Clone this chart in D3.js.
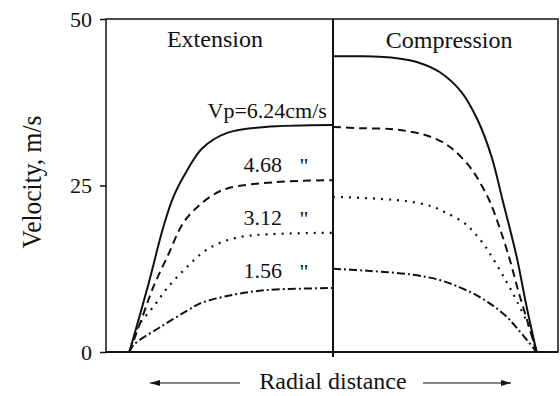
<!DOCTYPE html>
<html>
<head>
<meta charset="utf-8">
<script src="https://cdn.jsdelivr.net/npm/d3@7"></script>
<style>
  body { margin: 0; background: #fff; }
  svg text { font-family: "Liberation Serif", "Times New Roman", serif; fill: #111; }
</style>
</head>
<body>
<div id="chart"></div>
<script>
// radial position r: -1 = left wall (extension side), 0 = centre, 1 = right wall (compression side)
// values are velocity in m/s
var ext624 = [[-1,0],[-0.91,9.8],[-0.833,18.8],[-0.784,23.3],[-0.716,27.3],[-0.642,30.6],[-0.52,32.9],[-0.333,33.8],[0,34.1]];
var ext468 = [[-1,0],[-0.936,5.3],[-0.882,9.8],[-0.814,14.3],[-0.735,19.4],[-0.662,21.9],[-0.588,23.6],[-0.515,24.6],[-0.284,25.5],[0,25.8]];
var ext312 = [[-1,0],[-0.956,3.9],[-0.882,6.8],[-0.809,9.8],[-0.716,12.8],[-0.637,15.0],[-0.554,16.4],[-0.431,17.4],[0,17.9]];
var ext156 = [[-1,0],[-0.98,1.05],[-0.848,3.75],[-0.716,6.2],[-0.652,7.3],[-0.49,8.6],[-0.324,9.3],[0,9.6]];

var cmp624 = [[0,44.4],[0.132,44.4],[0.314,44.1],[0.426,43.4],[0.525,42.0],[0.632,39.0],[0.711,34.8],[0.779,29.3],[0.833,22.8],[0.902,14.3],[0.951,6.8],[1,0]];
var cmp468 = [[0,33.8],[0.132,33.6],[0.279,33.5],[0.377,33.1],[0.461,32.5],[0.539,31.5],[0.598,30.2],[0.672,27.8],[0.721,25.5],[0.77,22.6],[0.819,18.6],[0.868,13.9],[0.907,9.5],[0.951,5.0],[1,0]];
var cmp312 = [[0,23.3],[0.167,23.1],[0.314,22.8],[0.412,22.4],[0.49,21.8],[0.549,21.0],[0.647,19.3],[0.73,16.6],[0.794,13.6],[0.853,10.5],[0.902,7.7],[0.966,3.5],[1,0]];
var cmp156 = [[0,12.5],[0.167,12.2],[0.392,11.6],[0.525,10.8],[0.623,9.7],[0.706,8.5],[0.784,7.0],[0.853,5.3],[0.892,4.0],[0.931,2.6],[1,0]];

var yTicks = [0, 25, 50];
var speedLabels = ['Vp=6.24cm/s', '4.68', '3.12', '1.56'];
var sideLabels = ['Extension', 'Compression'];

var w = 560, h = 396;
var svg = d3.select('#chart').append('svg').attr('width', w).attr('height', h);

var xScale = d3.scaleLinear().domain([-1.115, 1.11]).range([106, 559]);
var yScale = d3.scaleLinear().domain([0, 50]).range([352, 19]);

var styles = [
  {dash: null, width: 2},        // 6.24
  {dash: '8,5', width: 2},       // 4.68
  {dash: '2,6', width: 2.2},     // 3.12
  {dash: '8,3,2,3', width: 2}    // 1.56
];

var line = d3.line()
  .x(function(d){return xScale(d[0]);})
  .y(function(d){return yScale(d[1]);})
  .curve(d3.curveCatmullRom.alpha(0.5));

var series = [ext624, ext468, ext312, ext156, cmp624, cmp468, cmp312, cmp156];
series.forEach(function(s, i){
  var st = styles[i % 4];
  svg.append('path')
    .attr('d', line(s))
    .attr('fill', 'none')
    .attr('stroke', '#111')
    .attr('stroke-width', st.width)
    .attr('stroke-dasharray', st.dash);
});

// frame
var x0 = xScale.range()[0], x1 = xScale.range()[1];
var y0 = yScale.range()[0], y1 = yScale.range()[1];
svg.append('rect')
  .attr('x', x0).attr('y', y1)
  .attr('width', x1 - x0 - 1).attr('height', y0 - y1)
  .attr('fill', 'none').attr('stroke', '#111').attr('stroke-width', 1.5);
svg.append('line') // bottom edge a bit heavier
  .attr('x1', x0).attr('x2', x1 - 1).attr('y1', y0).attr('y2', y0)
  .attr('stroke', '#111').attr('stroke-width', 2);

// centre divider with its tick below the axis
svg.append('line')
  .attr('x1', xScale(0)).attr('x2', xScale(0))
  .attr('y1', y1).attr('y2', y0 + 5)
  .attr('stroke', '#111').attr('stroke-width', 2);

// y axis
var yAxis = d3.axisLeft(yScale).tickValues(yTicks).tickSize(6).tickPadding(8);
var gy = svg.append('g').attr('transform', 'translate(' + x0 + ',0)').call(yAxis);
gy.select('.domain').remove();
gy.selectAll('line').attr('stroke', '#111').attr('stroke-width', 1.5);
gy.selectAll('text').attr('font-family', '"Liberation Serif", serif').attr('font-size', 22).attr('fill', '#111');

svg.append('text')
  .attr('transform', 'translate(41,' + 182 + ') rotate(-90) scale(1,1.1)')
  .attr('text-anchor', 'middle')
  .attr('font-size', 25.5)
  .text('Velocity, m/s');

// side labels
svg.append('text').attr('x', xScale(-0.58)).attr('y', 47)
  .attr('text-anchor', 'middle').attr('font-size', 24).text(sideLabels[0]);
svg.append('text').attr('x', xScale(0.57)).attr('y', 48)
  .attr('text-anchor', 'middle').attr('font-size', 24).text(sideLabels[1]);

// speed labels
svg.append('text').attr('x', xScale(-0.03)).attr('y', yScale(35.2))
  .attr('text-anchor', 'end').attr('font-size', 22).text(speedLabels[0]);
var lblV = [27.0, 19.0, 11.1];
lblV.forEach(function(v, i){
  svg.append('text').attr('x', xScale(-0.44)).attr('y', yScale(v))
    .attr('font-size', 22).text(speedLabels[i + 1]);
  svg.append('text').attr('x', xScale(-0.165)).attr('y', yScale(v) + 1)
    .attr('font-size', 22).text('"');
});

// radial distance arrows
var defs = svg.append('defs');
defs.append('marker')
  .attr('id', 'head').attr('viewBox', '0 0 10 6')
  .attr('refX', 10).attr('refY', 3)
  .attr('markerWidth', 11).attr('markerHeight', 6)
  .attr('markerUnits', 'userSpaceOnUse')
  .attr('orient', 'auto')
  .append('path').attr('d', 'M0,0 L10,3 L0,6 Z').attr('fill', '#111');

var ay = 383;
svg.append('line').attr('x1', 240).attr('x2', 150).attr('y1', ay).attr('y2', ay)
  .attr('stroke', '#111').attr('stroke-width', 1.2).attr('marker-end', 'url(#head)');
svg.append('line').attr('x1', 423).attr('x2', 511).attr('y1', ay).attr('y2', ay)
  .attr('stroke', '#111').attr('stroke-width', 1.2).attr('marker-end', 'url(#head)');
svg.append('text').attr('x', xScale(0)).attr('y', 389)
  .attr('text-anchor', 'middle').attr('font-size', 24).text('Radial distance');
</script>
</body>
</html>
